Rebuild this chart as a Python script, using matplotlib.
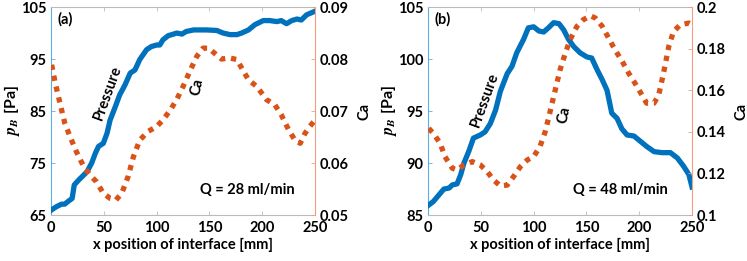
import numpy as np
import matplotlib
matplotlib.use("Agg")
import matplotlib.pyplot as plt

plt.rcParams['font.family'] = ['Lato', 'DejaVu Sans']
plt.rcParams['font.weight'] = 'bold'
plt.rcParams['mathtext.fontset'] = 'stix'

# ---- panel (a): Q = 28 ml/min ----
xa_p = [0.6, 5, 10, 13, 16, 20, 22, 26, 31, 34, 38.5, 42, 45, 49.5, 53, 56, 61, 65, 70, 75,
        79.5, 84, 90.5, 95, 100, 103, 106, 111, 116, 119, 124, 128, 135, 141, 147, 157, 163,
        169.5, 176, 180.5, 187, 193, 201, 207, 214, 218, 223, 228, 233, 237, 242, 250]
pa = [66.0, 66.6, 67.1, 67.1, 67.6, 68.2, 70.8, 71.7, 72.7, 73.3, 75.0, 76.9, 78.2, 78.8, 80.7,
      83.3, 85.9, 88.1, 90.0, 92.3, 92.9, 94.9, 96.8, 97.4, 97.7, 97.7, 98.7, 99.5, 99.8, 100.0,
      99.8, 100.3, 100.6, 100.6, 100.6, 100.5, 100.0, 99.7, 99.7, 100.0, 100.6, 101.6, 102.4,
      102.4, 102.2, 102.4, 101.8, 102.4, 102.7, 102.5, 103.5, 104.2]
xa_c = [0.6, 4, 8.5, 13, 18, 24, 31, 37, 43, 49.5, 56, 61.5, 67, 73, 78, 84, 92, 100, 106, 113,
        119, 125, 132, 138, 144, 149, 155, 161.5, 169.5, 176, 180.5, 187, 195, 204, 212, 218,
        225, 231, 236, 240.5, 245, 250]
ca_a = [0.0789, 0.0754, 0.0715, 0.0677, 0.0651, 0.0622, 0.0593, 0.0577, 0.0564, 0.0542, 0.0532,
        0.0529, 0.0542, 0.0574, 0.0612, 0.0644, 0.0661, 0.0670, 0.0683, 0.0702, 0.0722, 0.0747,
        0.0779, 0.0805, 0.0821, 0.0821, 0.0811, 0.0800, 0.0802, 0.0799, 0.0783, 0.0760, 0.0747,
        0.0722, 0.0712, 0.0693, 0.0664, 0.0644, 0.0638, 0.0657, 0.0670, 0.0683]

# ---- panel (b): Q = 48 ml/min ----
xb_p = [0.6, 5, 10, 15, 20, 23, 27.5, 31, 34, 38.5, 43, 49.5, 54, 59, 64, 68.5, 75, 79.5, 84,
        90.5, 95, 100, 105, 109.5, 114, 119, 124, 128.5, 133, 138, 144, 150.5, 155, 160, 165,
        169.5, 174, 179, 183.5, 188.5, 195, 201, 207, 214, 221.5, 229.5, 236, 242, 247, 250]
pb = [85.96, 86.3, 86.9, 87.5, 87.6, 87.9, 88.0, 88.9, 90.0, 91.1, 92.4, 92.7, 93.0, 93.8, 95.1,
      96.9, 98.6, 99.3, 100.6, 101.9, 103.0, 103.1, 102.7, 102.6, 103.0, 103.5, 103.4, 102.8,
      101.9, 101.2, 100.6, 100.2, 100.1, 99.0, 98.0, 97.0, 94.8, 94.3, 93.3, 92.7, 92.6, 92.1,
      91.6, 91.1, 91.0, 91.0, 90.5, 89.7, 88.9, 87.7]
xb_c = [0.6, 5, 11.5, 16, 23, 27.5, 34, 42, 49.5, 56, 62, 68.5, 75, 81, 87.5, 94, 100, 106, 111,
        116, 120.5, 125, 130, 134.5, 141, 147, 154, 158.5, 165, 171, 177, 184, 190, 196, 202.5,
        207, 214, 218.5, 223, 228, 232.5, 239, 247, 250]
ca_b = [0.1417, 0.1393, 0.1345, 0.1281, 0.1225, 0.1217, 0.1241, 0.1257, 0.1241, 0.1209, 0.1169,
        0.1140, 0.1144, 0.1185, 0.1233, 0.1265, 0.1281, 0.1329, 0.1401, 0.1506, 0.1602, 0.1698,
        0.1778, 0.1843, 0.1907, 0.1939, 0.1958, 0.1947, 0.1907, 0.1851, 0.1795, 0.1738, 0.1682,
        0.1634, 0.1578, 0.1538, 0.1538, 0.1578, 0.1682, 0.1811, 0.1883, 0.1915, 0.1923, 0.1915]

blue = '#0072BD'
orange = '#D95319'

fig = plt.figure(figsize=(7.47, 2.61), dpi=100)
ax1 = fig.add_axes([0.0683, 0.176, 0.3534, 0.797])
ax2 = fig.add_axes([0.573, 0.176, 0.3534, 0.797])

panels = [
    (ax1, xa_p, pa, xa_c, ca_a, (65, 105), [65, 75, 85, 95, 105], (0.05, 0.09),
     [0.05, 0.06, 0.07, 0.08, 0.09], ['0.05', '0.06', '0.07', '0.08', '0.09'], '(a)',
     'Q = 28 ml/min', 0.742, (0.216, 0.59), (0.553, 0.615)),
    (ax2, xb_p, pb, xb_c, ca_b, (85, 105), [85, 90, 95, 100, 105], (0.1, 0.2),
     [0.1, 0.12, 0.14, 0.16, 0.18, 0.2], ['0.1', '0.12', '0.14', '0.16', '0.18', '0.2'], '(b)',
     'Q = 48 ml/min', 0.727, (0.216, 0.553), (0.515, 0.48)),
]

for ax, xp, p, xc, ca, ylim, yt, clim, ct, ctl, tag, qtxt, qx, ppos, cpos in panels:
    ax.plot(xp, p, color=blue, lw=3.8, solid_joinstyle='round', zorder=3)
    ax.set_xlim(0, 250)
    ax.set_ylim(*ylim)
    ax.set_xticks([0, 50, 100, 150, 200, 250])
    ax.set_yticks(yt)
    ax.tick_params(direction='in', length=3, labelsize=10.5, top=True, width=0.6)
    ax.tick_params(axis='x', pad=4)
    ax.tick_params(axis='y', colors='#5DADE2', labelcolor='black')
    ax.tick_params(axis='x', colors='#BBBBBB', labelcolor='black')
    for lab in ax.get_xticklabels() + ax.get_yticklabels():
        lab.set_fontweight('bold')
    ax.spines['left'].set_color('#5DADE2')
    ax.spines['top'].set_color('#BBBBBB')
    ax.spines['bottom'].set_color('#BBBBBB')
    ax.spines['right'].set_visible(False)
    ax.set_xlabel('x position of interface [mm]', fontsize=10.5, fontweight='bold', labelpad=2)
    ax.set_ylabel('$p_B$ [Pa]', fontsize=11.5, fontweight='bold')
    ax.yaxis.set_label_coords(-0.11, 0.5)

    axr = ax.twinx()
    axr.plot(xc, ca, color=orange, lw=3.8, linestyle=(0, (1, 1.1)), dash_capstyle='butt', zorder=2)
    axr.set_ylim(*clim)
    axr.set_yticks(ct)
    axr.set_yticklabels(ctl)
    axr.tick_params(direction='in', length=3, labelsize=10.5, colors='#F0A080', labelcolor='black', width=0.6)
    for lab in axr.get_yticklabels():
        lab.set_fontweight('bold')
    axr.spines['right'].set_color('#F0A080')
    axr.spines['left'].set_visible(False)
    axr.spines['top'].set_visible(False)
    axr.spines['bottom'].set_visible(False)
    axr.set_ylabel('Ca', fontsize=10.5, fontweight='bold', labelpad=6)

    ax.text(0.025, 0.94, tag, transform=ax.transAxes, fontsize=10.5, fontweight='bold', va='center')
    ax.text(qx, 0.12, qtxt, transform=ax.transAxes, fontsize=10.5,
            fontweight='bold', ha='center', va='center')
    ax.text(ppos[0], ppos[1], 'Pressure', transform=ax.transAxes, fontsize=10.5, fontweight='bold',
            rotation=70, ha='center', va='center')
    ax.text(cpos[0], cpos[1], 'Ca', transform=ax.transAxes, fontsize=10.5, fontweight='bold',
            rotation=78, ha='center', va='center')

fig.savefig('out.png', dpi=100)
